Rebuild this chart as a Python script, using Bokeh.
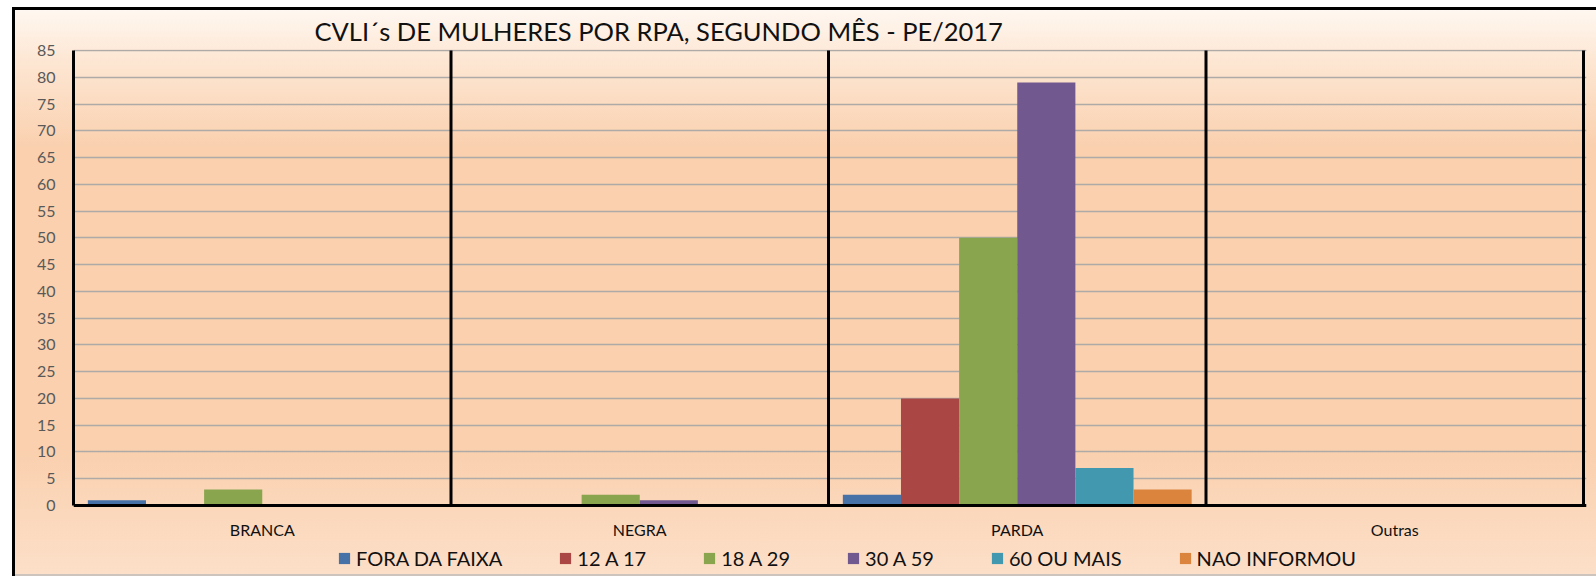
from bokeh.plotting import figure
from bokeh.models import (ColumnDataSource, Range1d, FixedTicker, Span, Legend)
from bokeh.core.properties import value
from bokeh.transform import dodge
from bokeh.embed import file_html
from bokeh.resources import INLINE

# ---- data ----
categories = ["BRANCA", "NEGRA", "PARDA", "Outras"]
series_names = ["FORA DA FAIXA", "12 A 17", "18 A 29", "30 A 59", "60 OU MAIS", "NAO INFORMOU"]
fora_da_faixa = [1, 0, 2, 0]
a12_17 = [0, 0, 20, 0]
a18_29 = [3, 2, 50, 0]
a30_59 = [0, 1, 79, 0]
a60_mais = [0, 0, 7, 0]
nao_informou = [0, 0, 3, 0]
y_ticks = list(range(0, 90, 5))
title_text = "CVLI´s DE MULHERES POR RPA, SEGUNDO MÊS -  PE/2017"

colors = ["#4672A8", "#AA4644", "#89A54E", "#71588F", "#4198AF", "#DB843D"]
FONT = "Lato"

# ---- layout geometry (canvas pixels; figure placed at page x=12, y=7) ----
W, H = 1584, 569
FRAME_LEFT = 61
ZERO_Y, TOP85_Y = 498, 43
FRAME_TOP = TOP85_Y - 1
FRAME_BOTTOM = H
CAT_PX = 1510 / 4.0
FRAME_RIGHT = FRAME_LEFT + 1510 + 3
px_per_unit = (ZERO_Y - TOP85_Y) / 85.0
y_min = -(FRAME_BOTTOM - ZERO_Y) / px_per_unit
y_max = 85 + (TOP85_Y - FRAME_TOP) / px_per_unit
n = len(categories)
x_max = n + (FRAME_RIGHT - FRAME_LEFT - 1510) / CAT_PX

p = figure(width=W, height=H, output_backend="svg", toolbar_location=None,
           x_range=Range1d(0, x_max), y_range=Range1d(y_min, y_max),
           min_border_left=FRAME_LEFT, min_border_right=W - FRAME_RIGHT,
           min_border_top=FRAME_TOP, min_border_bottom=0)
p.margin = (7, 0, 0, 12)
p.border_fill_color = None
p.background_fill_color = None
p.outline_line_color = None
p.styles = {
    "background": "linear-gradient(to bottom, #FFF8F2 0px, #FDE7D4 52px, #FAD0AE 142px, "
                  "#FAD0AE 442px, #FCDFC8 566px)",
    "box-shadow": "inset 3px 3px 0 0 #000000, inset 0 -2px 0 0 #CCC4BD",
}

# ---- bars ----
source = ColumnDataSource(dict(
    x=[i + 0.5 for i in range(n)], cat=categories,
    s0=fora_da_faixa, s1=a12_17, s2=a18_29, s3=a30_59, s4=a60_mais, s5=nao_informou))
bw = 0.154
items = []
for j, name in enumerate(series_names):
    r = p.vbar(x=dodge("x", (j - 2.5) * bw, range=p.x_range), top="s%d" % j, width=bw,
               source=source, fill_color=colors[j], line_color=None)
    items.append((name, [r]))

# category separators
bounds_x = [i + 1 for i in range(n)]
p.segment(x0=bounds_x, x1=bounds_x, y0=[0] * n, y1=[85] * n,
          line_color="black", line_width=3)
p.add_layout(Span(location=0, dimension="width", line_color="black", line_width=3))

# category labels
p.text(x="x", y=0, text="cat", source=source, y_offset=24,
       text_font=value(FONT), text_font_size="16px", text_color="#111111",
       text_align="center", text_baseline="middle")

legend = Legend(items=items, orientation="horizontal", location=(264, 6),
                background_fill_alpha=0, border_line_color=None, padding=0, margin=0,
                spacing=56, glyph_width=14, glyph_height=14, label_standoff=5,
                label_text_font=FONT, label_text_font_size="20px",
                label_text_color="#111111")
p.add_layout(legend, "center")

# ---- grid / axes ----
p.xgrid.grid_line_color = None
p.ygrid.ticker = FixedTicker(ticks=y_ticks)
p.ygrid.grid_line_color = "#AEAAA7"
p.ygrid.grid_line_width = 1.5

p.yaxis.ticker = FixedTicker(ticks=y_ticks)
p.yaxis.bounds = (0, 85)
p.yaxis.axis_line_color = "black"
p.yaxis.axis_line_width = 3
p.yaxis.major_tick_line_color = None
p.yaxis.minor_tick_line_color = None
p.yaxis.major_tick_out = 0
p.yaxis.major_label_standoff = 18
p.yaxis.major_label_text_font = FONT
p.yaxis.major_label_text_font_size = "16px"
p.yaxis.major_label_text_color = "#595959"
p.xaxis.visible = False

# ---- title ----
p.title.text = title_text
p.title.align = "left"
p.title.offset = 241
p.title.standoff = 8
p.title.text_font = FONT
p.title.text_font_size = "25.5px"
p.title.text_font_style = "normal"
p.title.text_color = "#111111"

open("out.html", "w").write(file_html(p, INLINE))
